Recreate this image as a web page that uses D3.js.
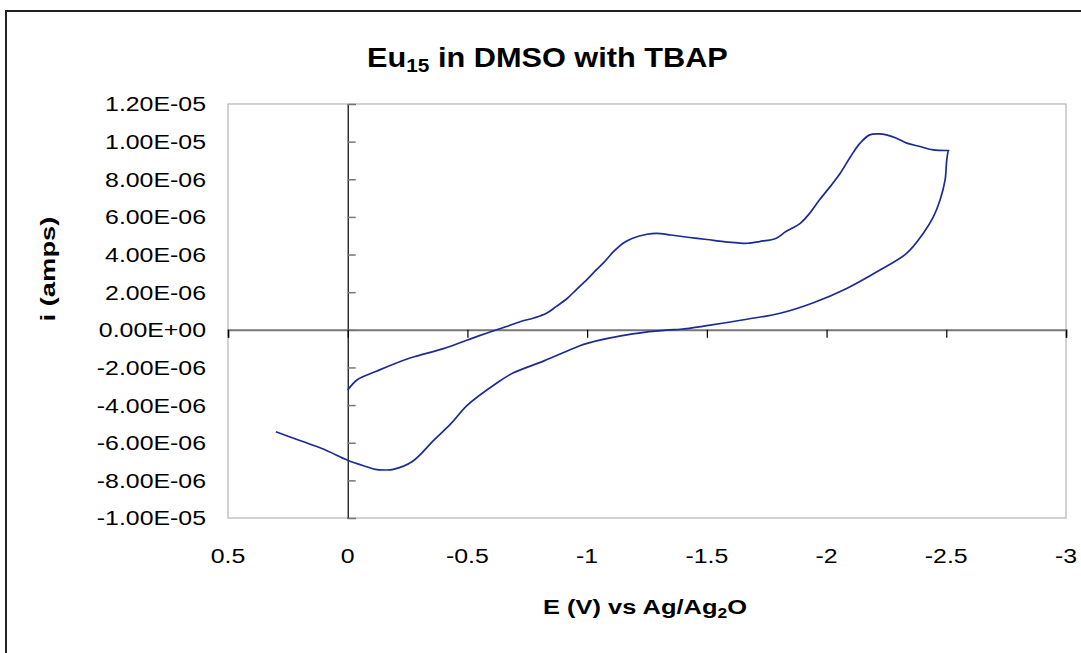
<!DOCTYPE html>
<html>
<head>
<meta charset="utf-8">
<script src="https://cdn.jsdelivr.net/npm/d3@7"></script>
<style>
  body { margin: 0; background: #fff; }
  text { font-family: Arial, "Liberation Sans", sans-serif; fill: #000; }
</style>
</head>
<body>
<svg id="chart" width="1081" height="653"></svg>
<script>
// cyclic voltammogram, forward sweep 0 -> -2.51 V then back to +0.3 V
var potential = [0, -0.04, -0.12, -0.26, -0.40, -0.50, -0.55, -0.61, -0.66, -0.72, -0.78, -0.83,
  -0.87, -0.915, -0.956, -1.0, -1.03, -1.07, -1.11, -1.15, -1.19, -1.25, -1.29, -1.35, -1.42,
  -1.50, -1.57, -1.63, -1.67, -1.72, -1.79, -1.83, -1.89, -1.93, -1.97, -2.015, -2.057, -2.10,
  -2.14, -2.18, -2.22, -2.25, -2.29, -2.335, -2.39, -2.446, -2.51,
  -2.509, -2.502, -2.495, -2.474, -2.446, -2.404, -2.335, -2.223, -2.084, -1.945, -1.806, -1.667,
  -1.50, -1.39, -1.34, -1.19, -1.0, -0.96, -0.82, -0.69, -0.62, -0.50, -0.43, -0.36, -0.27,
  -0.19, -0.156, -0.115, -0.08, 0, 0.1, 0.2, 0.3];
var current = [-3.2e-6, -2.65e-6, -2.2e-6, -1.5e-6, -1.0e-6, -0.54e-6, -0.31e-6, -0.05e-6, 0.16e-6,
  0.43e-6, 0.64e-6, 0.88e-6, 1.23e-6, 1.65e-6, 2.15e-6, 2.68e-6, 3.08e-6, 3.58e-6, 4.15e-6, 4.6e-6,
  4.87e-6, 5.08e-6, 5.13e-6, 5.04e-6, 4.92e-6, 4.8e-6, 4.69e-6, 4.62e-6, 4.6e-6, 4.69e-6, 4.87e-6,
  5.22e-6, 5.66e-6, 6.2e-6, 6.9e-6, 7.61e-6, 8.32e-6, 9.2e-6, 9.92e-6, 10.36e-6, 10.41e-6,
  10.36e-6, 10.19e-6, 9.92e-6, 9.74e-6, 9.56e-6, 9.53e-6,
  9.53e-6, 9.03e-6, 7.97e-6, 6.9e-6, 6.0e-6, 5.13e-6, 4.07e-6, 3.18e-6, 2.2e-6, 1.44e-6, 0.88e-6,
  0.56e-6, 0.22e-6, 0.03e-6, 0.0, -0.22e-6, -0.72e-6, -0.9e-6, -1.65e-6, -2.3e-6, -2.85e-6,
  -4.0e-6, -5.0e-6, -5.86e-6, -7.0e-6, -7.42e-6, -7.45e-6, -7.42e-6, -7.28e-6, -6.93e-6,
  -6.35e-6, -5.88e-6, -5.42e-6];

var xTicks = [0.5, 0, -0.5, -1, -1.5, -2, -2.5, -3];
var xTickLabels = ["0.5", "0", "-0.5", "-1", "-1.5", "-2", "-2.5", "-3"];
var yTicks = [1.2e-5, 1.0e-5, 8e-6, 6e-6, 4e-6, 2e-6, 0, -2e-6, -4e-6, -6e-6, -8e-6, -1.0e-5];
var yTickLabels = ["1.20E-05", "1.00E-05", "8.00E-06", "6.00E-06", "4.00E-06", "2.00E-06",
  "0.00E+00", "-2.00E-06", "-4.00E-06", "-6.00E-06", "-8.00E-06", "-1.00E-05"];

var svg = d3.select("#chart");

var x = d3.scaleLinear().domain([0.5, -3]).range([228, 1066]);
var y = d3.scaleLinear().domain([-1.0e-5, 1.2e-5]).range([518, 104]);

// squeeze / stretch a text horizontally around ax so it is w wide
function fitWidth(sel, w, ax) {
  var b = sel.node().getBBox();
  var k = w / b.width;
  sel.attr("transform", "translate(" + ax + ",0) scale(" + k + ",1) translate(" + (-ax) + ",0)");
  return k;
}

// chart frame
svg.append("rect")
  .attr("x", 6).attr("y", 11).attr("width", 1100).attr("height", 700)
  .attr("fill", "none").attr("stroke", "#222").attr("stroke-width", 2);

// plot area border
svg.append("rect")
  .attr("x", 228).attr("y", 104).attr("width", 1066 - 228).attr("height", 518 - 104)
  .attr("fill", "none").attr("stroke", "#b4b4b4").attr("stroke-width", 1.2);

// title
var title = svg.append("text")
  .attr("x", 367).attr("y", 67)
  .attr("font-size", 28).attr("font-weight", "bold");
title.append("tspan").text("Eu");
title.append("tspan").attr("font-size", 19).attr("dy", 5).text("15");
title.append("tspan").attr("dy", -5).text(" in DMSO with TBAP");
fitWidth(title, 361, 367);

// y axis at E = 0
var yAxis = svg.append("g")
  .attr("transform", "translate(" + x(0) + ",0)")
  .call(d3.axisRight(y).tickValues(yTicks).tickSize(8).tickFormat(""));
yAxis.select(".domain").attr("stroke", "#000").attr("stroke-width", 1.2);
yAxis.selectAll(".tick line").attr("stroke", "#777").attr("stroke-width", 1.5);

// x axis at i = 0
var xAxis = svg.append("g")
  .attr("transform", "translate(0," + y(0) + ")")
  .call(d3.axisBottom(x).tickValues(xTicks).tickSize(8).tickFormat(""));
xAxis.select(".domain").attr("stroke", "#777").attr("stroke-width", 2);
xAxis.selectAll(".tick line").attr("stroke", "#000").attr("stroke-width", 1.2);

// y tick labels
var yLab = svg.append("g").selectAll("text")
  .data(yTicks)
  .join("text")
  .attr("x", 206)
  .attr("y", function(d) { return y(d) + 7.5; })
  .attr("text-anchor", "end")
  .attr("font-size", 20.5)
  .text(function(d, i) { return yTickLabels[i]; });
var kLab = 101 / yLab.nodes()[0].getBBox().width;
yLab.attr("transform", "translate(206,0) scale(" + kLab + ",1) translate(-206,0)");

// x tick labels
svg.append("g").selectAll("text")
  .data(xTicks)
  .join("text")
  .attr("x", function(d) { return x(d); })
  .attr("y", 563)
  .attr("text-anchor", "middle")
  .attr("font-size", 20.5)
  .text(function(d, i) { return xTickLabels[i]; })
  .attr("transform", function(d) {
    return "translate(" + x(d) + ",0) scale(" + kLab + ",1) translate(" + (-x(d)) + ",0)";
  });

// axis titles
var xt = svg.append("text")
  .attr("x", 645).attr("y", 614)
  .attr("text-anchor", "middle")
  .attr("font-size", 20.5).attr("font-weight", "bold");
xt.append("tspan").text("E (V) vs Ag/Ag");
xt.append("tspan").attr("font-size", 14).attr("dy", 4).text("2");
xt.append("tspan").attr("dy", -4).text("O");
fitWidth(xt, 204, 645);

var yt = svg.append("g").attr("transform", "translate(55,269) rotate(-90)")
  .append("text")
  .attr("x", 0).attr("y", 0)
  .attr("text-anchor", "middle")
  .attr("font-size", 20.5).attr("font-weight", "bold")
  .text("i (amps)");
fitWidth(yt, 105, 0);

// the curve
var pts = potential.map(function(e, i) { return [e, current[i]]; });
var line = d3.line()
  .x(function(d) { return x(d[0]); })
  .y(function(d) { return y(d[1]); })
  .curve(d3.curveCatmullRom.alpha(0.5));

svg.append("path")
  .datum(pts)
  .attr("d", line)
  .attr("fill", "none")
  .attr("stroke", "#1c2a96")
  .attr("stroke-width", 1.7)
  .attr("stroke-linejoin", "round");
</script>
</body>
</html>
